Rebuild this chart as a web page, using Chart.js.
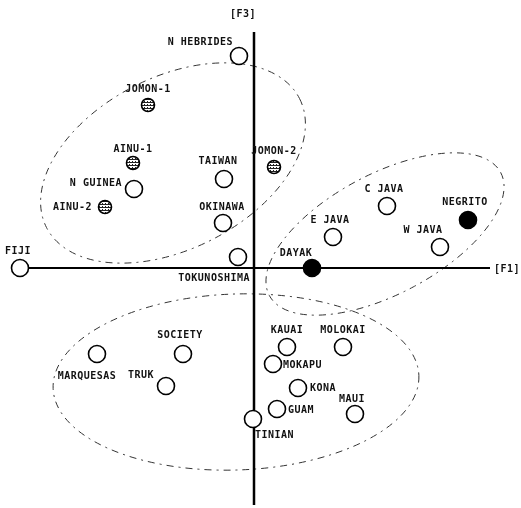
<!DOCTYPE html>
<html>
<head>
<meta charset="utf-8">
<script src="https://cdn.jsdelivr.net/npm/chart.js@4"></script>
<style>
html,body{margin:0;padding:0;background:#fff;}
#c{display:block;}
</style>
</head>
<body>
<canvas id="c" width="521" height="508"></canvas>
<script>
// ---- data ----
const categories = ['N HEBRIDES','JOMON-1','AINU-1','N GUINEA','AINU-2','TAIWAN','JOMON-2','OKINAWA','TOKUNOSHIMA','FIJI',
  'C JAVA','NEGRITO','E JAVA','W JAVA','DAYAK',
  'SOCIETY','MARQUESAS','TRUK','KAUAI','MOLOKAI','MOKAPU','KONA','GUAM','MAUI','TINIAN'];
const f1Values = [-0.15,-1.06,-1.21,-1.20,-1.49,-0.30,0.20,-0.31,-0.16,-2.34,
  1.33,2.14,0.79,1.86,0.58,
  -0.71,-1.57,-0.88,0.33,0.89,0.19,0.44,0.23,1.01,-0.01];
const f3Values = [2.12,1.63,1.05,0.79,0.61,0.89,1.01,0.45,0.11,0.00,
  0.62,0.48,0.31,0.21,0.00,
  -0.86,-0.86,-1.18,-0.79,-0.79,-0.96,-1.20,-1.41,-1.46,-1.51];
const markerKind = ['open','hatched','hatched','open','hatched','open','hatched','open','open','open',
  'open','filled','open','open','filled',
  'open','open','open','open','open','open','open','open','open','open'];
const axisTitles = ['[F1]','[F3]'];
const f1AxisRange = [-2.34, 2.36];
const f3AxisRange = [-2.37, 2.36];
// cluster ellipses (in factor units)
const groupCenterF1 = [-0.81, 1.31, -0.18];
const groupCenterF3 = [1.05, 0.34, -1.14];
const groupRadiusF1 = [1.42, 1.31, 1.83];
const groupRadiusF3 = [0.86, 0.60, 0.88];
const groupTiltDeg = [27, 28, 2];

// ---- label layout (pixel offsets, alignment) ----
const labelLayout = {
  'N HEBRIDES':[-6,-14,'right'], 'JOMON-1':[0,-16,'center'], 'AINU-1':[0,-14,'center'],
  'N GUINEA':[-12,-6,'right'], 'AINU-2':[-13,0,'right'], 'TAIWAN':[-6,-18,'center'],
  'JOMON-2':[0,-16,'center'], 'OKINAWA':[-1,-16,'center'], 'TOKUNOSHIMA':[12,21,'right'],
  'FIJI':[-2,-17,'center'], 'C JAVA':[-3,-17,'center'], 'NEGRITO':[-3,-18,'center'],
  'E JAVA':[-3,-17,'center'], 'W JAVA':[-17,-17,'center'], 'DAYAK':[-16,-15,'center'],
  'SOCIETY':[-3,-19,'center'], 'MARQUESAS':[-10,22,'center'], 'TRUK':[-12,-11,'right'],
  'KAUAI':[0,-17,'center'], 'MOLOKAI':[0,-17,'center'], 'MOKAPU':[10,1,'left'],
  'KONA':[12,0,'left'], 'GUAM':[11,1,'left'], 'MAUI':[-3,-15,'center'], 'TINIAN':[2,16,'left']
};

const ink = '#111';
const labelFont = 'bold 10px "DejaVu Sans Mono"';

function hatchPattern(){
  const p = document.createElement('canvas');
  p.width = 3; p.height = 3;
  const g = p.getContext('2d');
  g.fillStyle = '#fff'; g.fillRect(0,0,3,3);
  g.fillStyle = '#222';
  g.fillRect(0,0,3,1);
  g.fillRect(0,2,1,1);
  return document.getElementById('c').getContext('2d').createPattern(p,'repeat');
}
const hatch = hatchPattern();

const points = categories.map((n,i)=>({x:f1Values[i], y:f3Values[i]}));

const decor = {
  id:'decor',
  beforeDatasetsDraw(chart){
    const {ctx, scales:{x,y}} = chart;
    const ux = x.getPixelForValue(1) - x.getPixelForValue(0);
    const uy = y.getPixelForValue(0) - y.getPixelForValue(1);
    ctx.save();
    // ellipses
    ctx.strokeStyle = '#333';
    ctx.lineWidth = 1;
    ctx.setLineDash([7,5,2,5]);
    for (let i=0;i<groupCenterF1.length;i++){
      ctx.beginPath();
      ctx.ellipse(x.getPixelForValue(groupCenterF1[i]), y.getPixelForValue(groupCenterF3[i]),
        groupRadiusF1[i]*ux, groupRadiusF3[i]*uy, -groupTiltDeg[i]*Math.PI/180, 0, Math.PI*2);
      ctx.stroke();
    }
    ctx.setLineDash([]);
    // axes
    const x0 = x.getPixelForValue(0), y0 = y.getPixelForValue(0);
    ctx.strokeStyle = '#000';
    ctx.lineWidth = 2;
    ctx.beginPath();
    ctx.moveTo(x.getPixelForValue(f1AxisRange[0]), y0);
    ctx.lineTo(x.getPixelForValue(f1AxisRange[1]), y0);
    ctx.stroke();
    ctx.lineWidth = 2.5;
    ctx.beginPath();
    ctx.moveTo(x0, y.getPixelForValue(f3AxisRange[1]));
    ctx.lineTo(x0, y.getPixelForValue(f3AxisRange[0]));
    ctx.stroke();
    // axis titles
    ctx.fillStyle = ink;
    ctx.font = labelFont;
    ctx.letterSpacing = '0.5px';
    ctx.textBaseline = 'middle';
    ctx.textAlign = 'left';
    ctx.fillText(axisTitles[0], x.getPixelForValue(f1AxisRange[1]) + 4, y0 + 1);
    ctx.textAlign = 'center';
    ctx.fillText(axisTitles[1], x0 - 11, y.getPixelForValue(f3AxisRange[1]) - 18);
    ctx.restore();
  },
  afterDatasetsDraw(chart){
    const {ctx} = chart;
    const meta = chart.getDatasetMeta(0);
    ctx.save();
    ctx.fillStyle = ink;
    ctx.font = labelFont;
    ctx.letterSpacing = '0.5px';
    ctx.textBaseline = 'middle';
    meta.data.forEach((el,i)=>{
      const name = categories[i];
      const lay = labelLayout[name] || [0,-16,'center'];
      ctx.textAlign = lay[2];
      ctx.fillText(name, el.x + lay[0], el.y + lay[1]);
    });
    ctx.restore();
  }
};

new Chart(document.getElementById('c'), {
  type:'scatter',
  data:{ datasets:[{
    data: points,
    clip: false,
    pointRadius: ctx => markerKind[ctx.dataIndex]==='hatched' ? 6.5 : 8.5,
    pointBorderWidth: 1.6,
    pointBorderColor: '#000',
    pointBackgroundColor: ctx => {
      const k = markerKind[ctx.dataIndex];
      return k==='filled' ? '#000' : (k==='hatched' ? hatch : '#fff');
    },
    pointHoverRadius: 8.5
  }]},
  options:{
    responsive:false,
    animation:false,
    devicePixelRatio:1,
    layout:{padding:0, autoPadding:false},
    plugins:{legend:{display:false}, tooltip:{enabled:false}},
    scales:{
      x:{type:'linear', min:-2.54, max:2.67, display:false},
      y:{type:'linear', min:-2.40, max:2.68, display:false}
    }
  },
  plugins:[decor]
});
</script>
</body>
</html>
